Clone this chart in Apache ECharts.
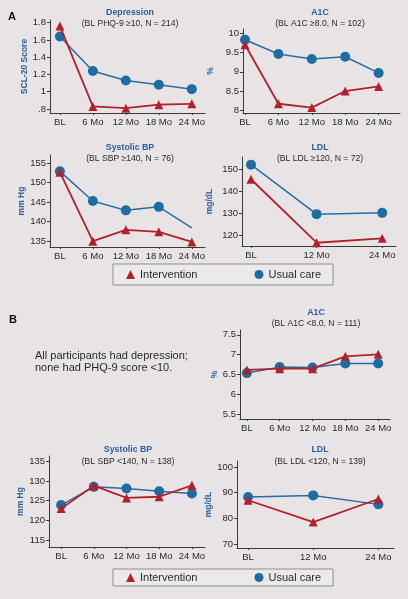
<!DOCTYPE html>
<html>
<head>
<meta charset="utf-8">
<script src="https://cdn.jsdelivr.net/npm/echarts@6/dist/echarts.min.js"></script>
<style>
html,body{margin:0;padding:0;background:#e8e4e6;}
#chart{width:408px;height:599px;}
</style>
</head>
<body>
<div id="chart"></div>
<script>
// ---- categories ----
const catsFull = ['BL', '6 Mo', '12 Mo', '18 Mo', '24 Mo'];
const catsLDL = ['BL', '12 Mo', '24 Mo'];

// ---- Panel A values ----
const depInt   = [1.76, 0.83, 0.81, 0.85, 0.86];
const depUsual = [1.64, 1.24, 1.13, 1.08, 1.03];
const a1cAInt   = [9.70, 8.17, 8.07, 8.50, 8.62];
const a1cAUsual = [9.83, 9.46, 9.33, 9.39, 8.97];
const sbpAInt   = [152.7, 135.0, 137.9, 137.4, 134.8];
const sbpAUsual = [152.9, 145.3, 142.9, 143.8, 138.4];
const ldlAInt   = [145.6, 116.5, 118.5];
const ldlAUsual = [152.3, 129.6, 130.2];

// ---- Panel B values ----
const a1cBInt   = [6.62, 6.65, 6.65, 6.96, 7.01];
const a1cBUsual = [6.54, 6.69, 6.68, 6.78, 6.78];
const sbpBInt   = [123.0, 128.8, 125.7, 126.0, 128.9];
const sbpBUsual = [123.9, 128.5, 128.1, 127.4, 126.8];
const ldlBInt   = [87.0, 78.5, 87.5];
const ldlBUsual = [88.3, 88.9, 85.4];

// ---- tick labels ----
const depTicks  = [0.8, 1, 1.2, 1.4, 1.6, 1.8];
const a1cATicks = [8, 8.5, 9, 9.5, 10];
const sbpATicks = [135, 140, 145, 150, 155];
const ldlATicks = [120, 130, 140, 150];
const a1cBTicks = [5.5, 6, 6.5, 7, 7.5];
const sbpBTicks = [115, 120, 125, 130, 135];
const ldlBTicks = [70, 80, 90, 100];

const FONT = '"Liberation Sans", Arial, sans-serif';
const RED = '#b2212b';
const BLUE = '#1d6ca2';
const BLUE_LINE = '#2b6b9f';
const TITLE_BLUE = '#2c5d9b';
const AXIS = '#3a3a3a';

const panels = [
  {grid:{left:50, top:20, width:155, height:93}, xmin:-0.3, xmax:4.4, cats:catsFull, ymin:0.754, ymax:1.83, ticks:depTicks, name:'SCL-20 Score', nameGap:20, fmt:v => (v === 0.8 ? '.8' : String(v)), ints:depInt, usual:depUsual},
  {grid:{left:243, top:29, width:157, height:84}, xmin:-0.06, xmax:4.64, cats:catsFull, ymin:7.93, ymax:10.11, ticks:a1cATicks, name:'%', nameGap:28, fmt:v => String(v), ints:a1cAInt, usual:a1cAUsual},
  {grid:{left:50, top:155, width:155, height:92}, xmin:-0.3, xmax:4.4, cats:catsFull, ymin:133.5, ymax:157.1, ticks:sbpATicks, name:'mm Hg', nameGap:18, fmt:v => String(v), ints:sbpAInt, usual:sbpAUsual, lastNoSymbol:true},
  {grid:{left:242, top:157, width:154, height:89}, xmin:-0.137, xmax:2.21, cats:catsLDL, ymin:115, ymax:155.8, ticks:ldlATicks, name:'mg/dL', nameGap:28, fmt:v => String(v), ints:ldlAInt, usual:ldlAUsual},
  {grid:{left:240, top:330, width:150, height:89}, xmin:-0.21, xmax:4.36, cats:catsFull, ymin:5.39, ymax:7.62, ticks:a1cBTicks, name:'%', nameGap:9, fmt:v => String(v), ints:a1cBInt, usual:a1cBUsual},
  {grid:{left:49, top:456, width:156, height:91}, xmin:-0.37, xmax:4.4, cats:catsFull, ymin:113.3, ymax:136.3, ticks:sbpBTicks, name:'mm Hg', nameGap:20, fmt:v => String(v), ints:sbpBInt, usual:sbpBUsual},
  {grid:{left:237, top:461, width:157, height:87}, xmin:-0.17, xmax:2.24, cats:catsLDL, ymin:68.4, ymax:102.3, ticks:ldlBTicks, name:'mg/dL', nameGap:20, fmt:v => String(v), ints:ldlBInt, usual:ldlBUsual}
];

const grids = [], xAxes = [], yAxes = [], series = [];
panels.forEach((p, i) => {
  grids.push(Object.assign({outerBoundsMode:'none', containLabel:false}, p.grid));
  const idx = p.cats.map((c, k) => k);
  xAxes.push({
    type:'value', gridIndex:i, min:p.xmin, max:p.xmax,
    splitLine:{show:false},
    axisLine:{show:true, onZero:false, lineStyle:{color:AXIS, width:1}},
    axisTick:{show:true, length:2, customValues:idx, lineStyle:{color:AXIS}},
    axisLabel:{customValues:idx, margin:4, color:'#2a2a2a', fontSize:9.5, fontFamily:FONT,
      formatter:(v) => p.cats[Math.round(v)]}
  });
  yAxes.push({
    type:'value', gridIndex:i, min:p.ymin, max:p.ymax,
    splitLine:{show:false},
    axisLine:{show:true, onZero:false, lineStyle:{color:AXIS, width:1}},
    axisTick:{show:true, length:3, customValues:p.ticks, lineStyle:{color:AXIS}},
    axisLabel:{customValues:p.ticks, margin:4, color:'#2a2a2a', fontSize:9.5, fontFamily:FONT, formatter:p.fmt},
    name:p.name, nameLocation:'middle', nameRotate:90, nameGap:p.nameGap,
    nameTextStyle:{color:TITLE_BLUE, fontWeight:'bold', fontSize:8.5, fontFamily:FONT}
  });
  const usualData = p.usual.map((v, k) => {
    if (p.lastNoSymbol && k === p.usual.length - 1) return {value:[k, v], symbol:'none'};
    return [k, v];
  });
  series.push({
    name:'Usual care', type:'line', xAxisIndex:i, yAxisIndex:i, data:usualData,
    symbol:'circle', symbolSize:10, showAllSymbol:true,
    lineStyle:{color:BLUE_LINE, width:1.5}, itemStyle:{color:BLUE}, z:2, animation:false
  });
  series.push({
    name:'Intervention', type:'line', xAxisIndex:i, yAxisIndex:i, data:p.ints.map((v, k) => [k, v]),
    symbol:'triangle', symbolSize:9, showAllSymbol:true,
    lineStyle:{color:RED, width:1.8}, itemStyle:{color:RED}, z:3, animation:false
  });
});

function txt(x, y, text, opts) {
  return {type:'text', x:x, y:y, silent:true, style:Object.assign({
    text:text, fill:'#2a2a2a', font:'8.5px ' + FONT, textAlign:'center', textVerticalAlign:'middle'
  }, opts || {})};
}
const titleFont = 'bold 8.8px ' + FONT;
const subFont = '8.6px ' + FONT;
const graphics = [
  txt(8, 17, 'A', {font:'bold 11px ' + FONT, textAlign:'left', fill:'#111'}),
  txt(9, 320, 'B', {font:'bold 11px ' + FONT, textAlign:'left', fill:'#111'}),
  txt(130, 12.5, 'Depression', {font:titleFont, fill:TITLE_BLUE}),
  txt(130, 23.5, '(BL PHQ-9 \u226510, N = 214)', {font:subFont}),
  txt(320, 12.5, 'A1C', {font:titleFont, fill:TITLE_BLUE}),
  txt(320, 24, '(BL A1C \u22658.0, N = 102)', {font:subFont}),
  txt(130, 147.5, 'Systolic BP', {font:titleFont, fill:TITLE_BLUE}),
  txt(130, 158.5, '(BL SBP \u2265140, N = 76)', {font:subFont}),
  txt(320, 148, 'LDL', {font:titleFont, fill:TITLE_BLUE}),
  txt(320, 159, '(BL LDL \u2265120, N = 72)', {font:subFont}),
  txt(316, 313, 'A1C', {font:titleFont, fill:TITLE_BLUE}),
  txt(316, 324, '(BL A1C <8.0, N = 111)', {font:subFont}),
  txt(128, 450, 'Systolic BP', {font:titleFont, fill:TITLE_BLUE}),
  txt(128, 461.5, '(BL SBP <140, N = 138)', {font:subFont}),
  txt(320, 450, 'LDL', {font:titleFont, fill:TITLE_BLUE}),
  txt(320, 461.5, '(BL LDL <120, N = 139)', {font:subFont}),
  txt(35, 356, 'All participants had depression;', {font:'11px ' + FONT, textAlign:'left'}),
  txt(35, 368, 'none had PHQ-9 score <10.', {font:'11px ' + FONT, textAlign:'left'})
];

const legendData = [{name:'Intervention', icon:'triangle'}, {name:'Usual care', icon:'circle'}];
function legendAt(top, padV) {
  return {
    left:113, top:top, orient:'horizontal', data:legendData,
    padding:[padV, 12, padV, 13], itemGap:57, itemWidth:9, itemHeight:9,
    backgroundColor:'#ece9eb', borderColor:'#8e8e8e', borderWidth:1, borderRadius:0,
    textStyle:{fontSize:11, color:'#2a2a2a', fontFamily:FONT}, selectedMode:false
  };
}

const chart = echarts.init(document.getElementById('chart'), null, {renderer:'canvas'});
chart.setOption({
  backgroundColor:'#e8e4e6',
  animation:false,
  textStyle:{fontFamily:FONT},
  grid:grids, xAxis:xAxes, yAxis:yAxes, series:series,
  legend:[legendAt(264, 5), legendAt(569, 3)],
  graphic:graphics
});
</script>
</body>
</html>
